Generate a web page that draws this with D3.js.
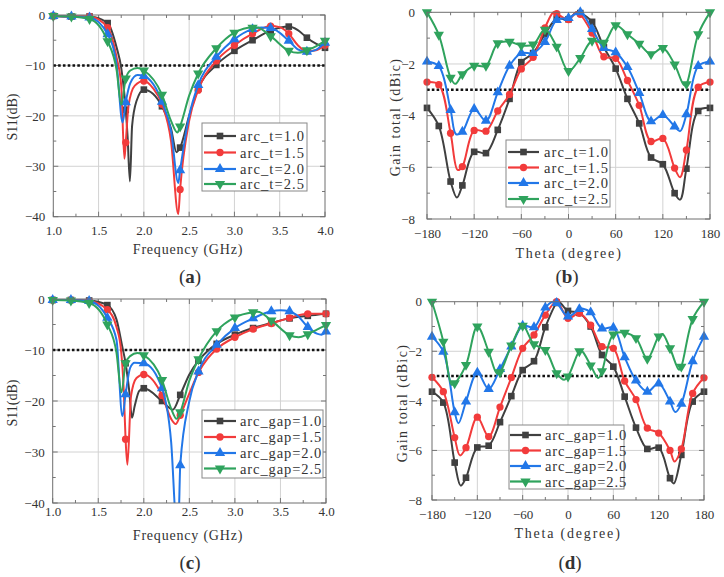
<!DOCTYPE html>
<html><head><meta charset="utf-8">
<script src="https://cdn.jsdelivr.net/npm/d3@7"></script>
<style>body{margin:0;background:#fff} svg{display:block} text{font-family:"Liberation Serif","DejaVu Serif",serif;fill:#333}</style>
</head><body><svg id="c" width="724" height="577"></svg>
<script>
// ---------- DATA ----------
const freqMarks = [1.0,1.2,1.4,1.6,1.8,2.0,2.2,2.4,2.6,2.8,3.0,3.2,3.4,3.6,3.8,4.0];
const thetaMarks = [-180,-165,-150,-135,-120,-105,-90,-75,-60,-45,-30,-15,0,15,30,45,60,75,90,105,120,135,150,165,180];

const namesA = ["arc_t=1.0","arc_t=1.5","arc_t=2.0","arc_t=2.5"];
const namesC = ["arc_gap=1.0","arc_gap=1.5","arc_gap=2.0","arc_gap=2.5"];

// (a) S11 vs arc_t  (values at marker frequencies + extra curve points)
const a_t10 = [-0.2,-0.3,-0.3,-1.6,-18.8,-14.8,-18.1,-26.3,-14.6,-9.9,-7.1,-5.0,-3.1,-2.3,-4.5,-6.5];
const a_t10x = [[1.7,-6.5],[1.75,-10.5],[1.82,-24],[1.846,-33],[1.87,-22],[1.92,-17],[2.1,-15.6],[2.3,-22.5],[2.36,-27.2],[2.5,-20],[3.7,-3.0],[3.9,-5.7]];
const a_t15 = [-0.2,-0.3,-0.3,-2.5,-25.3,-13.1,-17.7,-34.6,-14.9,-9.1,-6.0,-3.7,-2.2,-3.7,-7.2,-6.0];
const a_t15x = [[1.7,-8.5],[1.75,-14],[1.785,-28.5],[1.83,-18],[1.9,-14],[2.1,-14.5],[2.3,-25],[2.38,-39.5],[2.5,-21],[3.5,-2.4],[3.7,-6.0],[3.9,-7.0]];
const a_t20 = [-0.2,-0.3,-0.5,-3.8,-17.3,-12.1,-17.2,-30.8,-13.9,-8.3,-4.8,-2.8,-2.6,-5.1,-7.3,-5.5];
const a_t20x = [[1.7,-10],[1.765,-21.3],[1.85,-13.5],[1.93,-11.9],[2.3,-23],[2.38,-33.3],[2.5,-20],[3.3,-2.5],[3.7,-6.8],[3.9,-6.9]];
const a_t25 = [-0.2,-0.3,-0.8,-5.2,-12.6,-11.0,-15.8,-22.1,-11.6,-6.6,-3.5,-2.5,-4.2,-7.1,-7.0,-5.1];
const a_t25x = [[1.7,-11],[1.75,-17.8],[1.85,-11],[1.93,-10.5],[2.3,-21],[2.37,-23.3],[2.5,-16],[3.25,-2.5],[3.7,-7.5],[3.9,-6.2]];

// (c) S11 vs arc_gap
const c_g10 = [-0.2,-0.2,-0.3,-1.2,-12.6,-17.5,-20.0,-18.8,-12.1,-8.8,-7.0,-5.7,-4.7,-3.8,-3.3,-2.9];
const c_g10x = [[1.7,-4],[1.76,-9],[1.84,-18],[1.87,-23.3],[1.9,-21],[1.95,-18],[2.32,-21.7],[2.5,-14.8],[2.7,-10.2]];
const c_g15 = [-0.2,-0.2,-0.4,-2.1,-27.5,-14.8,-18.9,-22.8,-14.4,-9.8,-7.5,-5.9,-4.8,-3.7,-2.9,-2.9];
const c_g15x = [[1.7,-5.5],[1.75,-10],[1.78,-18],[1.82,-32.5],[1.86,-19],[1.92,-15.5],[2.3,-23.5],[2.35,-24.5],[2.5,-18.5],[2.7,-11.7]];
const c_g20 = [-0.2,-0.2,-0.4,-3.7,-18.7,-12.6,-17.5,-32.6,-14.2,-9.0,-5.7,-3.8,-2.4,-2.4,-5.5,-6.4];
const c_g20x = [[1.7,-8],[1.765,-23],[1.85,-13.5],[1.9,-12.5],[2.3,-28],[2.36,-44],[2.38,-44],[2.5,-20],[3.5,-2.2],[3.7,-3.5],[3.9,-6.8],[3.95,-7.0]];
const c_g25 = [-0.2,-0.3,-0.8,-5.0,-12.6,-11.0,-15.9,-22.2,-11.8,-6.3,-3.6,-2.6,-4.2,-7.1,-6.9,-5.1];
const c_g25x = [[1.7,-10.5],[1.755,-18.3],[1.85,-11.2],[1.93,-10.6],[2.3,-21.5],[2.36,-23.5],[2.5,-16],[3.25,-2.5],[3.7,-7.5],[3.9,-6.0]];

// (b) Gain vs arc_t
const b_t10 = [-3.7,-4.4,-6.55,-6.7,-5.4,-5.45,-4.55,-3.35,-1.93,-1.58,-0.85,-0.25,-0.27,-0.03,-0.37,-1.35,-2.18,-3.35,-4.3,-5.62,-5.88,-7.0,-6.05,-3.82,-3.7];
const b_t10x = [[-142,-7.17],[10,0],[142,-7.25]];
const b_t15 = [-2.7,-2.8,-4.68,-5.97,-4.57,-4.6,-3.82,-3.18,-2.19,-1.74,-0.6,-0.05,-0.28,-0.08,-0.8,-1.72,-1.78,-2.64,-3.6,-5.0,-4.88,-6.03,-5.33,-2.9,-2.7];
const b_t15x = [[-141,-6.1],[-19,0],[10,0],[142,-6.38]];
const b_t20 = [-1.91,-2.08,-3.78,-4.62,-3.74,-4.2,-3.1,-2.07,-1.58,-1.58,-1.15,-0.3,-0.22,0,-0.65,-1.38,-1.55,-2.12,-3.12,-4.22,-3.98,-4.42,-3.95,-2.08,-1.91];
const b_t20x = [[-143,-4.72],[142,-4.6]];
const b_t25 = [0,-0.87,-2.53,-2.4,-2.07,-2.07,-1.2,-1.14,-1.28,-1.25,-0.67,-1.33,-2.27,-1.77,-1.1,-1.18,-0.5,-0.85,-1.22,-1.62,-1.38,-2.02,-2.78,-0.85,0];
const b_t25x = [[-144,-2.77],[147,-2.82]];

// (d) Gain vs arc_gap
const d_g10 = [-3.63,-4.07,-6.49,-7.1,-5.88,-5.81,-4.86,-3.81,-2.76,-2.4,-1.03,-0.05,-0.37,-0.45,-1.0,-2.15,-2.62,-3.83,-5.08,-5.94,-5.89,-7.12,-6.18,-4.03,-3.63];
const d_g10x = [[-142,-7.42],[-12,0],[140,-7.33]];
const d_g15 = [-3.05,-3.63,-5.48,-5.89,-4.66,-5.44,-4.25,-3.06,-1.88,-1.34,-0.54,0,-0.67,-0.47,-0.95,-1.81,-1.88,-3.2,-3.95,-5.1,-5.3,-6.0,-5.94,-3.7,-3.07];
const d_g15x = [[-143,-6.2],[141,-6.45]];
const d_g20 = [-1.41,-2.02,-4.46,-4.03,-2.86,-3.52,-2.72,-1.81,-0.97,-1.03,-0.24,-0.05,-0.6,-0.3,-0.43,-1.08,-1.05,-2.24,-3.18,-3.63,-3.3,-4.03,-4.12,-2.4,-1.41];
const d_g20x = [[-145,-4.9],[-20,0],[20,-0.28],[142,-4.45]];
const d_g25 = [0,-1.61,-3.29,-2.55,-1.0,-2.02,-2.85,-1.77,-0.97,-1.72,-1.95,-2.89,-3.02,-2.0,-2.57,-2.8,-1.32,-1.25,-1.47,-2.3,-1.4,-1.88,-2.62,-0.7,0];
const d_g25x = [[-154,-3.35],[-94,-2.9],[-5,-3.15],[18,-1.98],[40,-3.08],[125,-1.3],[147,-2.75]];

const colors = ["#404040","#f23b3b","#2277e8","#2fa35d"];
const shapes = ["square","circle","up","down"];

// ---------- DRAW ----------
const svg = d3.select("#c");

function symbolPath(shape){
  if(shape==="square") return d3.symbol(d3.symbolSquare,44)();
  if(shape==="circle") return d3.symbol(d3.symbolCircle,42)();
  return d3.symbol(d3.symbolTriangle,46)();
}

function panel(cfg, idx){
  const g = svg.append("g");
  const x = d3.scaleLinear().domain(cfg.xd).range([cfg.box.l, cfg.box.r]);
  const y = d3.scaleLinear().domain(cfg.yd).range([cfg.box.b, cfg.box.t]);
  const w = cfg.box.r-cfg.box.l, h = cfg.box.b-cfg.box.t;
  // grid
  cfg.xMajor.forEach(v=>{ if(v!==cfg.xd[0] && v!==cfg.xd[1]) g.append("line").attr("x1",x(v)).attr("x2",x(v)).attr("y1",cfg.box.t).attr("y2",cfg.box.b).attr("stroke","#d2d2d2").attr("stroke-width",1);});
  cfg.yMajor.forEach(v=>{ if(v!==cfg.yd[0] && v!==cfg.yd[1]) g.append("line").attr("y1",y(v)).attr("y2",y(v)).attr("x1",cfg.box.l).attr("x2",cfg.box.r).attr("stroke","#d2d2d2").attr("stroke-width",1);});
  // ticks (inward, all four sides)
  cfg.xMinor.forEach(v=>{
    const L = cfg.xMajor.includes(v)?5:3;
    g.append("line").attr("x1",x(v)).attr("x2",x(v)).attr("y1",cfg.box.b).attr("y2",cfg.box.b-L).attr("stroke","#777");
    g.append("line").attr("x1",x(v)).attr("x2",x(v)).attr("y1",cfg.box.t).attr("y2",cfg.box.t+L).attr("stroke","#777");
  });
  cfg.yMinor.forEach(v=>{
    const L = cfg.yMajor.includes(v)?5:3;
    g.append("line").attr("y1",y(v)).attr("y2",y(v)).attr("x1",cfg.box.l).attr("x2",cfg.box.l+L).attr("stroke","#777");
    g.append("line").attr("y1",y(v)).attr("y2",y(v)).attr("x1",cfg.box.r).attr("x2",cfg.box.r-L).attr("stroke","#777");
  });
  // tick labels via d3 axes (tick lines hidden)
  const xa = g.append("g").attr("transform",`translate(0,${cfg.box.b})`)
    .call(d3.axisBottom(x).tickValues(cfg.xMajor).tickSize(0).tickPadding(cfg.xPad).tickFormat(cfg.xFmt));
  const ya = g.append("g").attr("transform",`translate(${cfg.box.l},0)`)
    .call(d3.axisLeft(y).tickValues(cfg.yMajor).tickSize(0).tickPadding(cfg.yPad).tickFormat(d3.format("d")));
  [xa,ya].forEach(a=>{ a.select(".domain").remove(); a.selectAll("text").attr("font-size",13).attr("fill","#333").style("font-family",'"Liberation Serif",serif');});
  // reference dotted line
  g.append("line").attr("x1",cfg.box.l).attr("x2",cfg.box.r).attr("y1",y(cfg.ref)).attr("y2",y(cfg.ref))
    .attr("stroke","#111").attr("stroke-width",2.6).attr("stroke-dasharray","2.6,2.2");
  // clip
  const cid = "clip"+idx;
  svg.append("clipPath").attr("id",cid).append("rect").attr("x",cfg.box.l).attr("y",cfg.box.t-6).attr("width",w).attr("height",h+6);
  const line = d3.line().x(d=>x(d[0])).y(d=>y(d[1])).curve(cfg.curve);
  cfg.series.forEach((s,i)=>{
    const pts = cfg.xMarks.map((xv,k)=>[xv,s.vals[k]]).concat(s.extra).sort((a,b)=>a[0]-b[0]);
    g.append("path").attr("d",line(pts)).attr("fill","none").attr("stroke",colors[i]).attr("stroke-width",2).attr("clip-path",`url(#${cid})`);
    cfg.xMarks.forEach((xv,k)=>{
      const yy = s.vals[k];
      let tr = `translate(${x(xv)},${y(yy)})`;
      if(shapes[i]==="down") tr += " rotate(180)";
      g.append("path").attr("d",symbolPath(shapes[i])).attr("transform",tr).attr("fill",colors[i]);
    });
  });
  // frame
  g.append("rect").attr("x",cfg.box.l).attr("y",cfg.box.t).attr("width",w).attr("height",h).attr("fill","none").attr("stroke","#6e6e6e").attr("stroke-width",1);
  // legend
  const L = cfg.legend;
  g.append("rect").attr("x",L.x).attr("y",L.y).attr("width",L.w).attr("height",L.h).attr("fill","#fff").attr("stroke","#888").attr("stroke-width",1);
  cfg.series.forEach((s,i)=>{
    const ry = L.rows[i];
    g.append("line").attr("x1",L.l1).attr("x2",L.l2).attr("y1",ry).attr("y2",ry).attr("stroke",colors[i]).attr("stroke-width",2.2);
    let tr = `translate(${(L.l1+L.l2)/2},${ry})`;
    if(shapes[i]==="down") tr += " rotate(180)";
    g.append("path").attr("d",symbolPath(shapes[i])).attr("transform",tr).attr("fill",colors[i]);
    g.append("text").attr("x",L.tx).attr("y",ry).attr("dy","0.36em").attr("font-size",14.5).attr("letter-spacing",L.ls).text(s.name);
  });
  // axis titles
  g.append("text").attr("transform",`translate(${cfg.yl[0]},${cfg.yl[1]}) rotate(-90)`).attr("text-anchor","middle").attr("dy","0.35em")
    .attr("font-size",14).attr("letter-spacing",cfg.yls).style("white-space","pre").text(cfg.ylabel);
  g.append("text").attr("x",cfg.xl[0]).attr("y",cfg.xl[1]).attr("text-anchor","middle").attr("dy","0.35em")
    .attr("font-size",14).attr("letter-spacing",cfg.xls).style("white-space","pre").text(cfg.xlabel);
  // panel letter
  const t = g.append("text").attr("x",cfg.letter[0]).attr("y",cfg.letter[1]).attr("text-anchor","middle").attr("dy","0.35em").attr("font-size",19).attr("fill","#111");
  t.append("tspan").text("(");
  t.append("tspan").attr("font-weight","bold").text(cfg.letter[2]);
  t.append("tspan").text(")");
}

const fmt1 = d3.format(".1f");
const freqMajor = [1.0,1.5,2.0,2.5,3.0,3.5,4.0];
const freqMinor = d3.range(0,13).map(i=>1+i*0.25);
const s11Major = [0,-10,-20,-30,-40];
const s11Minor = d3.range(0,9).map(i=>-5*i);
const thMajor = [-180,-120,-60,0,60,120,180];
const thMinor = d3.range(-180,181,30);
const gMajor = [0,-2,-4,-6,-8];
const gMinor = [0,-1,-2,-3,-4,-5,-6,-7,-8];
const sCurve = d3.curveMonotoneX;
const gCurve = d3.curveCatmullRom.alpha(0.5);

panel({box:{l:53.3,r:325,t:15,b:216.7}, xd:[1,4], yd:[-40,0], xMajor:freqMajor, xMinor:freqMinor, yMajor:s11Major, yMinor:s11Minor,
  xFmt:fmt1, xPad:9, yPad:8, ref:-10, xMarks:freqMarks, curve:sCurve,
  series:[{name:namesA[0],vals:a_t10,extra:a_t10x},{name:namesA[1],vals:a_t15,extra:a_t15x},{name:namesA[2],vals:a_t20,extra:a_t20x},{name:namesA[3],vals:a_t25,extra:a_t25x}],
  legend:{x:202,y:123,w:105,h:68,rows:[136,152.5,169,184],l1:204,l2:236,tx:240,ls:1.1},
  ylabel:"S11(dB)", yl:[12,117], yls:0, xlabel:"Frequency (GHz)", xl:[188,249], xls:0.8, letter:[190,276,"a"]},0);

panel({box:{l:427,r:710,t:12.3,b:219}, xd:[-180,180], yd:[-8,0], xMajor:thMajor, xMinor:thMinor, yMajor:gMajor, yMinor:gMinor,
  xFmt:d3.format("d"), xPad:10, yPad:12, ref:-3, xMarks:thetaMarks, curve:gCurve,
  series:[{name:namesA[0],vals:b_t10,extra:b_t10x},{name:namesA[1],vals:b_t15,extra:b_t15x},{name:namesA[2],vals:b_t20,extra:b_t20x},{name:namesA[3],vals:b_t25,extra:b_t25x}],
  legend:{x:506,y:140,w:104,h:67,rows:[152,167.5,183,199],l1:508,l2:539,tx:544,ls:1.1},
  ylabel:"Gain total (dBic)", yl:[395,117], yls:1.4, xlabel:"Theta (degree)", xl:[569,253], xls:1.8, letter:[567,276,"b"]},1);

panel({box:{l:52.7,r:326,t:299,b:503}, xd:[1,4], yd:[-40,0], xMajor:freqMajor, xMinor:freqMinor, yMajor:s11Major, yMinor:s11Minor,
  xFmt:fmt1, xPad:4, yPad:8, ref:-10, xMarks:freqMarks, curve:sCurve,
  series:[{name:namesC[0],vals:c_g10,extra:c_g10x},{name:namesC[1],vals:c_g15,extra:c_g15x},{name:namesC[2],vals:c_g20,extra:c_g20x},{name:namesC[3],vals:c_g25,extra:c_g25x}],
  legend:{x:202,y:410,w:121,h:68,rows:[421,437,453,468.5],l1:204,l2:236,tx:240,ls:0.9},
  ylabel:"S11(dB)", yl:[12,403], yls:0, xlabel:"Frequency (GHz)", xl:[188,535], xls:0.8, letter:[190,562,"c"]},2);

panel({box:{l:432,r:704,t:301.7,b:500}, xd:[-180,180], yd:[-8,0], xMajor:thMajor, xMinor:thMinor, yMajor:gMajor, yMinor:gMinor,
  xFmt:d3.format("d"), xPad:10, yPad:10, ref:-3, xMarks:thetaMarks, curve:gCurve,
  series:[{name:namesC[0],vals:d_g10,extra:d_g10x},{name:namesC[1],vals:d_g15,extra:d_g15x},{name:namesC[2],vals:d_g20,extra:d_g20x},{name:namesC[3],vals:d_g25,extra:d_g25x}],
  legend:{x:509,y:425,w:115,h:64,rows:[435,450.5,466,481.5],l1:510,l2:541,tx:545,ls:0.9},
  ylabel:"Gain total (dBic)", yl:[402,403], yls:1.4, xlabel:"Theta (degree)", xl:[568,533], xls:1.8, letter:[570,562,"d"]},3);
</script>
</body></html>
